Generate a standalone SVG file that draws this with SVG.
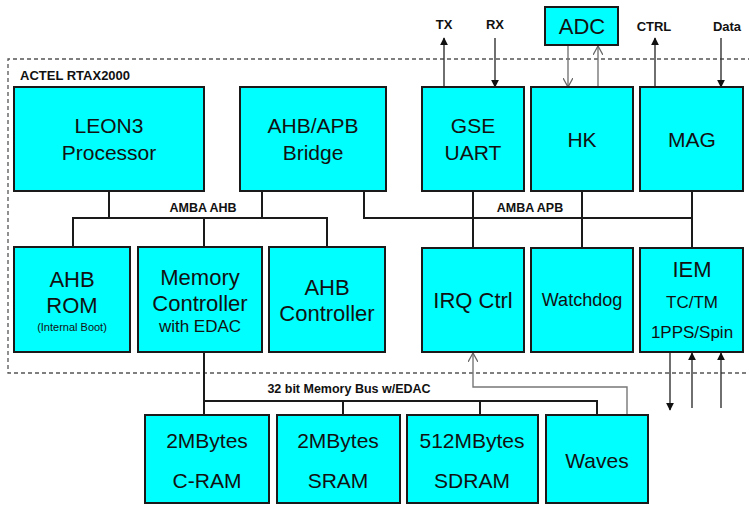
<svg xmlns="http://www.w3.org/2000/svg" width="749" height="505" viewBox="0 0 749 505">
<defs>
<marker id="fa" viewBox="0 0 10 10" refX="9" refY="5" markerWidth="8" markerHeight="8" markerUnits="userSpaceOnUse" orient="auto">
<path d="M0,0 L10,5 L0,10 z" fill="#111"/>
</marker>
<marker id="oa" viewBox="0 0 10 10" refX="9" refY="5" markerWidth="10" markerHeight="10" markerUnits="userSpaceOnUse" orient="auto">
<path d="M0,0 L9,5 L0,10" fill="none" stroke="#666" stroke-width="1.3"/>
</marker>
</defs>
<style>
.box{fill:#00FFFF;stroke:#1a1a1a;stroke-width:2}
.t{font-family:"Liberation Sans",Arial,sans-serif;fill:#111;text-anchor:middle}
.big{font-size:21px}
.xl{font-size:22px}
.mid{font-size:17px}
.lbl{font-size:12.5px;font-weight:bold}
.sl{font-size:13px;font-weight:bold}
.bus{fill:none;stroke:#1a1a1a;stroke-width:2}
.sig{fill:none;stroke:#333;stroke-width:1.4}
.gsig{fill:none;stroke:#777;stroke-width:1.4}
.dash{fill:none;stroke:#555;stroke-width:1.3;stroke-dasharray:4,3}
</style>
<rect width="749" height="505" fill="#fff"/>
<path class="dash" d="M752,59 H8 V373 H752"/>
<text class="t lbl" x="20" y="80" style="text-anchor:start;font-size:13px">ACTEL RTAX2000</text>

<g id="connectors">
<path class="bus" d="M109,191 V218 M262,191 V218 M73,247 V218 H327 V247 M204,218 V247"/>
<path class="bus" d="M364,191 V218 H692 M473,191 V248 M582,191 V248 M692,191 V248"/>
<path class="bus" d="M204,352 V415 M204,401 H597 V415 M343,401 V415 M480,401 V415"/>
<path class="gsig" d="M627,415 V387 H473 V353" marker-end="url(#oa)"/>
<path class="sig" d="M444,87 V38" marker-end="url(#fa)"/>
<path class="sig" d="M495,38 V87" marker-end="url(#fa)"/>
<path class="gsig" d="M568,45 V87" marker-end="url(#oa)"/>
<path class="gsig" d="M598,87 V46" marker-end="url(#oa)"/>
<path class="sig" d="M655,87 V38" marker-end="url(#fa)"/>
<path class="sig" d="M721,38 V87" marker-end="url(#fa)"/>
<path class="sig" d="M670,353 V410" marker-end="url(#fa)"/>
<path class="sig" d="M692,408 V353" marker-end="url(#fa)"/>
<path class="sig" d="M721,408 V353" marker-end="url(#fa)"/>
<text class="t lbl" x="203" y="212">AMBA AHB</text>
<text class="t lbl" x="530" y="212">AMBA APB</text>
<text class="t lbl" x="349" y="393">32 bit Memory Bus w/EDAC</text>
<text class="t sl" x="444" y="29">TX</text>
<text class="t sl" x="495" y="29">RX</text>
<text class="t sl" x="654" y="31">CTRL</text>
<text class="t sl" x="727" y="31">Data</text>
</g>

<g id="adc"><rect class="box" x="545" y="7" width="73" height="38"/><text class="t" x="582" y="34" style="font-size:22px">ADC</text></g>

<g id="leon3"><rect class="box" x="14" y="87" width="190" height="104"/><text class="t big" x="109" y="133">LEON3</text><text class="t big" x="109" y="160">Processor</text></g>
<g id="bridge"><rect class="box" x="240" y="87" width="146" height="104"/><text class="t big" x="313" y="133">AHB/APB</text><text class="t big" x="313" y="160">Bridge</text></g>
<g id="gse"><rect class="box" x="422" y="87" width="102" height="104"/><text class="t big" x="473" y="133">GSE</text><text class="t big" x="473" y="160">UART</text></g>
<g id="hk"><rect class="box" x="531" y="87" width="102" height="104"/><text class="t big" x="582" y="147">HK</text></g>
<g id="mag"><rect class="box" x="640" y="87" width="103" height="104"/><text class="t big" x="692" y="147">MAG</text></g>

<g id="ahbrom"><rect class="box" x="14" y="247" width="116" height="105"/><text class="t xl" x="72" y="287">AHB</text><text class="t xl" x="72" y="313">ROM</text><text class="t" x="72" y="331" style="font-size:11px">(Internal  Boot)</text></g>
<g id="memctrl"><rect class="box" x="138" y="247" width="124" height="105"/><text class="t xl" x="200" y="285">Memory</text><text class="t xl" x="200" y="311">Controller</text><text class="t mid" x="200" y="332">with EDAC</text></g>
<g id="ahbctrl"><rect class="box" x="269" y="247" width="116" height="105"/><text class="t xl" x="327" y="295">AHB</text><text class="t xl" x="327" y="321">Controller</text></g>
<g id="irq"><rect class="box" x="422" y="248" width="102" height="104"/><text class="t xl" x="473" y="308">IRQ Ctrl</text></g>
<g id="watchdog"><rect class="box" x="531" y="248" width="102" height="104"/><text class="t" x="582" y="306" style="font-size:18px">Watchdog</text></g>
<g id="iem"><rect class="box" x="640" y="248" width="103" height="104"/><text class="t xl" x="692" y="277">IEM</text><text class="t mid" x="692" y="308">TC/TM</text><text class="t mid" x="692" y="338">1PPS/Spin</text></g>

<g id="cram"><rect class="box" x="145" y="415" width="124" height="88"/><text class="t big" x="207" y="448">2MBytes</text><text class="t big" x="207" y="488">C-RAM</text></g>
<g id="sram"><rect class="box" x="277" y="415" width="123" height="88"/><text class="t big" x="338" y="448">2MBytes</text><text class="t big" x="338" y="488">SRAM</text></g>
<g id="sdram"><rect class="box" x="407" y="415" width="131" height="88"/><text class="t big" x="472" y="448">512MBytes</text><text class="t big" x="472" y="488">SDRAM</text></g>
<g id="waves"><rect class="box" x="546" y="415" width="102" height="88"/><text class="t big" x="597" y="468">Waves</text></g>
</svg>
